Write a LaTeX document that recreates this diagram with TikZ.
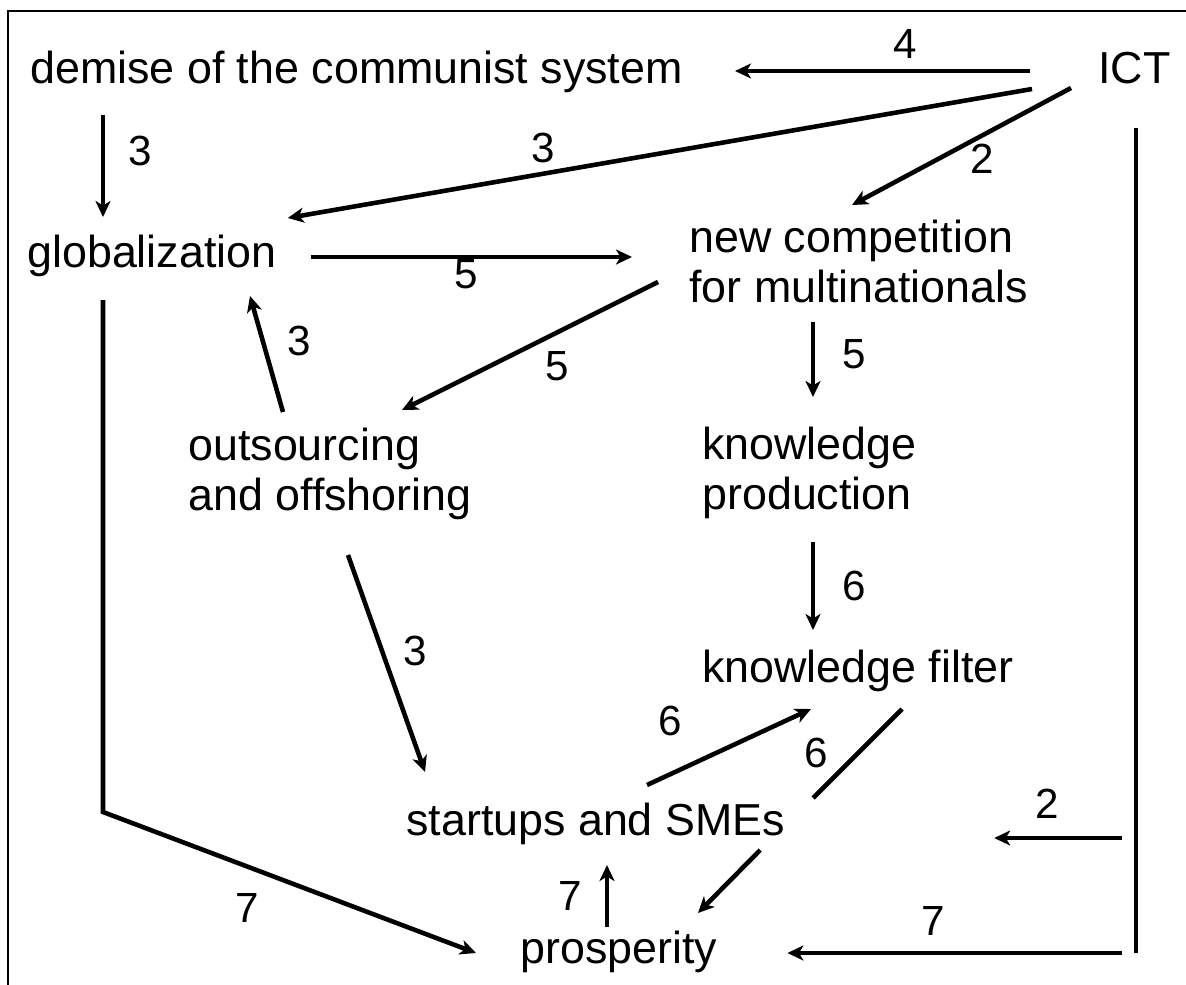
\documentclass[tikz,border=0pt]{standalone}
\usepackage{fontspec}
\setmainfont{Liberation Sans}
\usetikzlibrary{arrows.meta}

\tikzstyle{mytext} = [font=\fontsize{25.5}{28.45}\selectfont, inner sep=0pt,
    anchor=base west, align=left]
\tikzstyle{mynum} = [font=\fontsize{24}{26}\selectfont, inner sep=0pt, anchor=base]
\tikzstyle{myline} = [line width=2.6pt]
\tikzstyle{myarrow} = [myline, -{Stealth[length=0.32cm, width=0.3cm, inset=0.09cm]}]
\tikzstyle{myframe} = [line width=1.6pt]

\begin{document}
\begin{tikzpicture}[x=0.02cm, y=-0.02cm]
\useasboundingbox (0,0) rectangle (1186,984);
\draw[myframe] (8,1000) -- (8,11) -- (1200,11);

% concepts (two-line nodes sit on their last baseline)
\node[mytext] (demise) at (30,83) {demise of the communist system};
\node[mytext] (ict) at (1098,83) {ICT};
\node[mytext] (glob) at (27,267) {globalization};
\node[mytext] (newcomp) at (689,302) {new competition\\for multinationals};
\node[mytext] (outsrc) at (188,510) {outsourcing\\and offshoring};
\node[mytext] (knowprod) at (702,509) {knowledge\\production};
\node[mytext] (knowfilt) at (702,682) {knowledge filter};
\node[mytext] (startups) at (406,835) {startups and SMEs};
\node[mytext] (prosp) at (520,963) {prosperity};

% links
\draw[myarrow] ([shift={(-68,-12)}]ict.base west) -- ([shift={(52,-12)}]demise.base east);
\draw[myarrow] ([shift={(-66,6)}]ict.base west) -- ([shift={(11,-49)}]glob.base east);
\draw[myarrow] ([shift={(-27,5)}]ict.base west) -- ([shift={(163,-97)}]newcomp.base west);
\draw[myarrow] ([shift={(73,32)}]demise.base west) -- ([shift={(76,-50)}]glob.base west);
\draw[myarrow] ([shift={(34,-10)}]glob.base east) -- ([shift={(-57,-45)}]newcomp.base west);
\draw[myarrow] ([shift={(-31,-20)}]newcomp.base west) -- ([shift={(214,-100)}]outsrc.base west);
\draw[myarrow] ([shift={(95,-98)}]outsrc.base west) -- ([shift={(223,29)}]glob.base west);
\draw[myarrow] ([shift={(124,20)}]newcomp.base west) -- ([shift={(111,-112)}]knowprod.base west);
\draw[myarrow] ([shift={(111,33)}]knowprod.base west) -- ([shift={(111,-52)}]knowfilt.base west);
\draw[myarrow] ([shift={(160,45)}]outsrc.base west) -- ([shift={(19,-63)}]startups.base west);
\draw[myarrow] ([shift={(241,-50)}]startups.base west) -- ([shift={(109,27)}]knowfilt.base west);
\draw[myline] ([shift={(200,27)}]knowfilt.base west) -- ([shift={(28,-37)}]startups.base east);
\draw[myarrow] ([shift={(-25,15)}]startups.base east) -- ([shift={(178,-50)}]prosp.base west);
\draw[myarrow] ([shift={(87,-36)}]prosp.base west) -- ([shift={(201,30)}]startups.base west);
\draw[myarrow] ([shift={(76,33)}]glob.base west) -- ++(0,512) -- ([shift={(-44,-10)}]prosp.base west);
\draw[myline] ([shift={(38,45)}]ict.base west) -- ++(0,825) coordinate (ictbot);
\draw[myarrow] ([shift={(-14,-115)}]ictbot) -- ([shift={(209,3)}]startups.base east);
\draw[myarrow] ([xshift=-14*0.02cm]ictbot) -- ([shift={(70,-10)}]prosp.base east);

% weights
\node[mynum] (w4) at (905,58) {4};
\node[mynum] (w3a) at (543,162) {3};
\node[mynum] (w2a) at (982,173) {2};
\node[mynum] (w3b) at (140,165) {3};
\node[mynum] (w5a) at (466,288) {5};
\node[mynum] (w5b) at (557,380) {5};
\node[mynum] (w3c) at (299,355) {3};
\node[mynum] (w5c) at (854,368) {5};
\node[mynum] (w6a) at (854,600) {6};
\node[mynum] (w3d) at (415,665) {3};
\node[mynum] (w6b) at (670,735) {6};
\node[mynum] (w6c) at (816,767) {6};
\node[mynum] (w7a) at (570,910) {7};
\node[mynum] (w7b) at (247,922) {7};
\node[mynum] (w2b) at (1047,818) {2};
\node[mynum] (w7c) at (933,935) {7};
\end{tikzpicture}
\end{document}
